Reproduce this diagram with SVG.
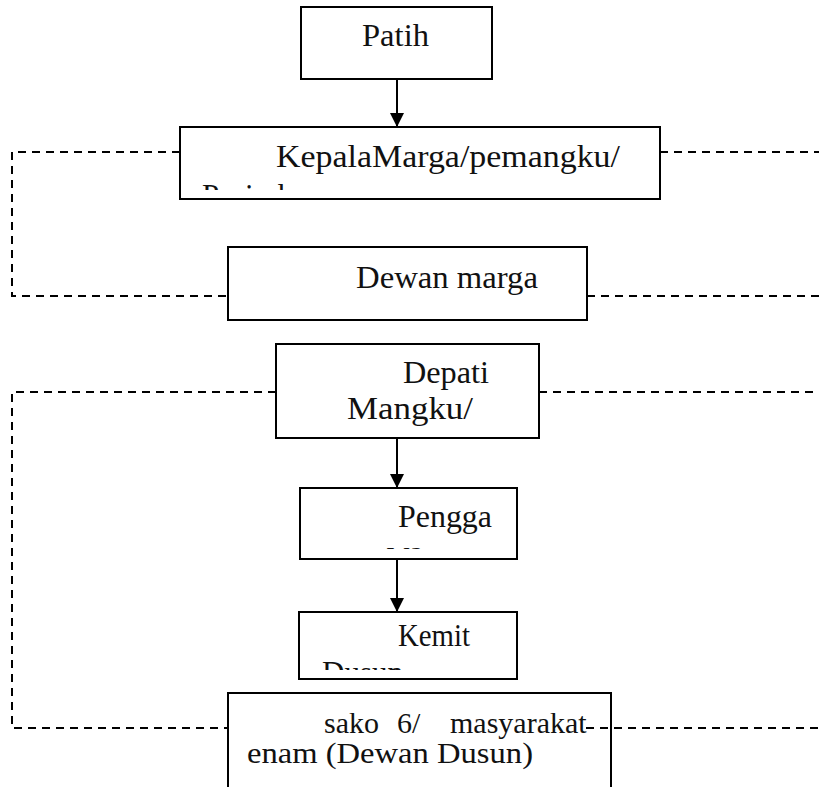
<svg xmlns="http://www.w3.org/2000/svg" width="819" height="787" viewBox="0 0 819 787">
  <style>
    .box { fill: #ffffff; stroke: #000000; stroke-width: 2; }
    .lbl { font-family: "Liberation Serif", "Times New Roman", serif; font-size: 31px; fill: #111111; }
    .lbl-sm { font-size: 30px; }
    .flow { stroke: #000000; stroke-width: 2; fill: none; }
    .dash { stroke: #000000; stroke-width: 2; fill: none; stroke-dasharray: 8 6; }
  </style>
  <defs>
    <marker id="arrow" markerUnits="userSpaceOnUse" markerWidth="14" markerHeight="14" viewBox="0 0 14 14" refX="14" refY="7" orient="auto">
      <path d="M0 0 L14 7 L0 14 Z" fill="#000000"/>
    </marker>
    <!-- text areas clip overflowing lines -->
    <clipPath id="clip-kepala"><rect x="182" y="129" width="476" height="61"/></clipPath>
    <clipPath id="clip-pengga"><rect x="302" y="490" width="213" height="59"/></clipPath>
    <clipPath id="clip-kemit"><rect x="301" y="614" width="214" height="56"/></clipPath>
  </defs>

  <g id="node-patih">
    <rect class="box" x="301" y="7" width="191" height="72"/>
    <text class="lbl" x="362" y="46" textLength="67" lengthAdjust="spacingAndGlyphs">Patih</text>
  </g>

  <g id="node-kepala-marga">
    <rect class="box" x="180" y="127" width="480" height="72"/>
    <g clip-path="url(#clip-kepala)">
      <text class="lbl" x="276" y="167" textLength="344" lengthAdjust="spacingAndGlyphs">KepalaMarga/pemangku/</text>
      <text class="lbl" x="202" y="206">Pesirah</text>
    </g>
  </g>

  <g id="node-dewan-marga">
    <rect class="box" x="228" y="247" width="359" height="73"/>
    <text class="lbl" x="356" y="288" textLength="182" lengthAdjust="spacingAndGlyphs">Dewan marga</text>
  </g>

  <g id="node-depati">
    <rect class="box" x="276" y="344" width="263" height="94"/>
    <text class="lbl" x="403" y="383" textLength="86" lengthAdjust="spacingAndGlyphs">Depati</text>
    <text class="lbl" x="347" y="419" textLength="126" lengthAdjust="spacingAndGlyphs">Mangku/</text>
  </g>

  <g id="node-penggawa">
    <rect class="box" x="300" y="488" width="217" height="71"/>
    <g clip-path="url(#clip-pengga)">
      <text class="lbl" x="398" y="527" textLength="94" lengthAdjust="spacingAndGlyphs">Pengga</text>
      <text class="lbl" x="387" y="563">wa</text>
    </g>
  </g>

  <g id="node-kemit">
    <rect class="box" x="299" y="612" width="218" height="67"/>
    <g clip-path="url(#clip-kemit)">
      <text class="lbl" x="398" y="646" textLength="72" lengthAdjust="spacingAndGlyphs">Kemit</text>
      <text class="lbl" x="322" y="683">Dusun</text>
    </g>
  </g>

  <g id="node-sako">
    <rect class="box" x="228" y="693" width="383" height="110"/>
    <text class="lbl lbl-sm" y="733"><tspan x="324">sako</tspan><tspan x="397">6/</tspan><tspan x="450">masyarakat</tspan></text>
    <text class="lbl lbl-sm" x="247" y="763" textLength="286" lengthAdjust="spacingAndGlyphs">enam (Dewan Dusun)</text>
  </g>

  <g id="connectors">
    <!-- chain of command -->
    <line class="flow" x1="397" y1="79" x2="397" y2="127" marker-end="url(#arrow)"/>
    <line class="flow" x1="397" y1="438" x2="397" y2="488" marker-end="url(#arrow)"/>
    <line class="flow" x1="397" y1="559" x2="397" y2="612" marker-end="url(#arrow)"/>
    <!-- coordination links -->
    <path class="dash" d="M180 152 H12 V296 H228"/>
    <path class="dash" d="M660 152 H819"/>
    <path class="dash" d="M587 296 H819"/>
    <path class="dash" d="M276 392 H12 V728 H228"/>
    <path class="dash" d="M539 392 H819"/>
    <path class="dash" d="M586 728 H819"/>
  </g>
</svg>
